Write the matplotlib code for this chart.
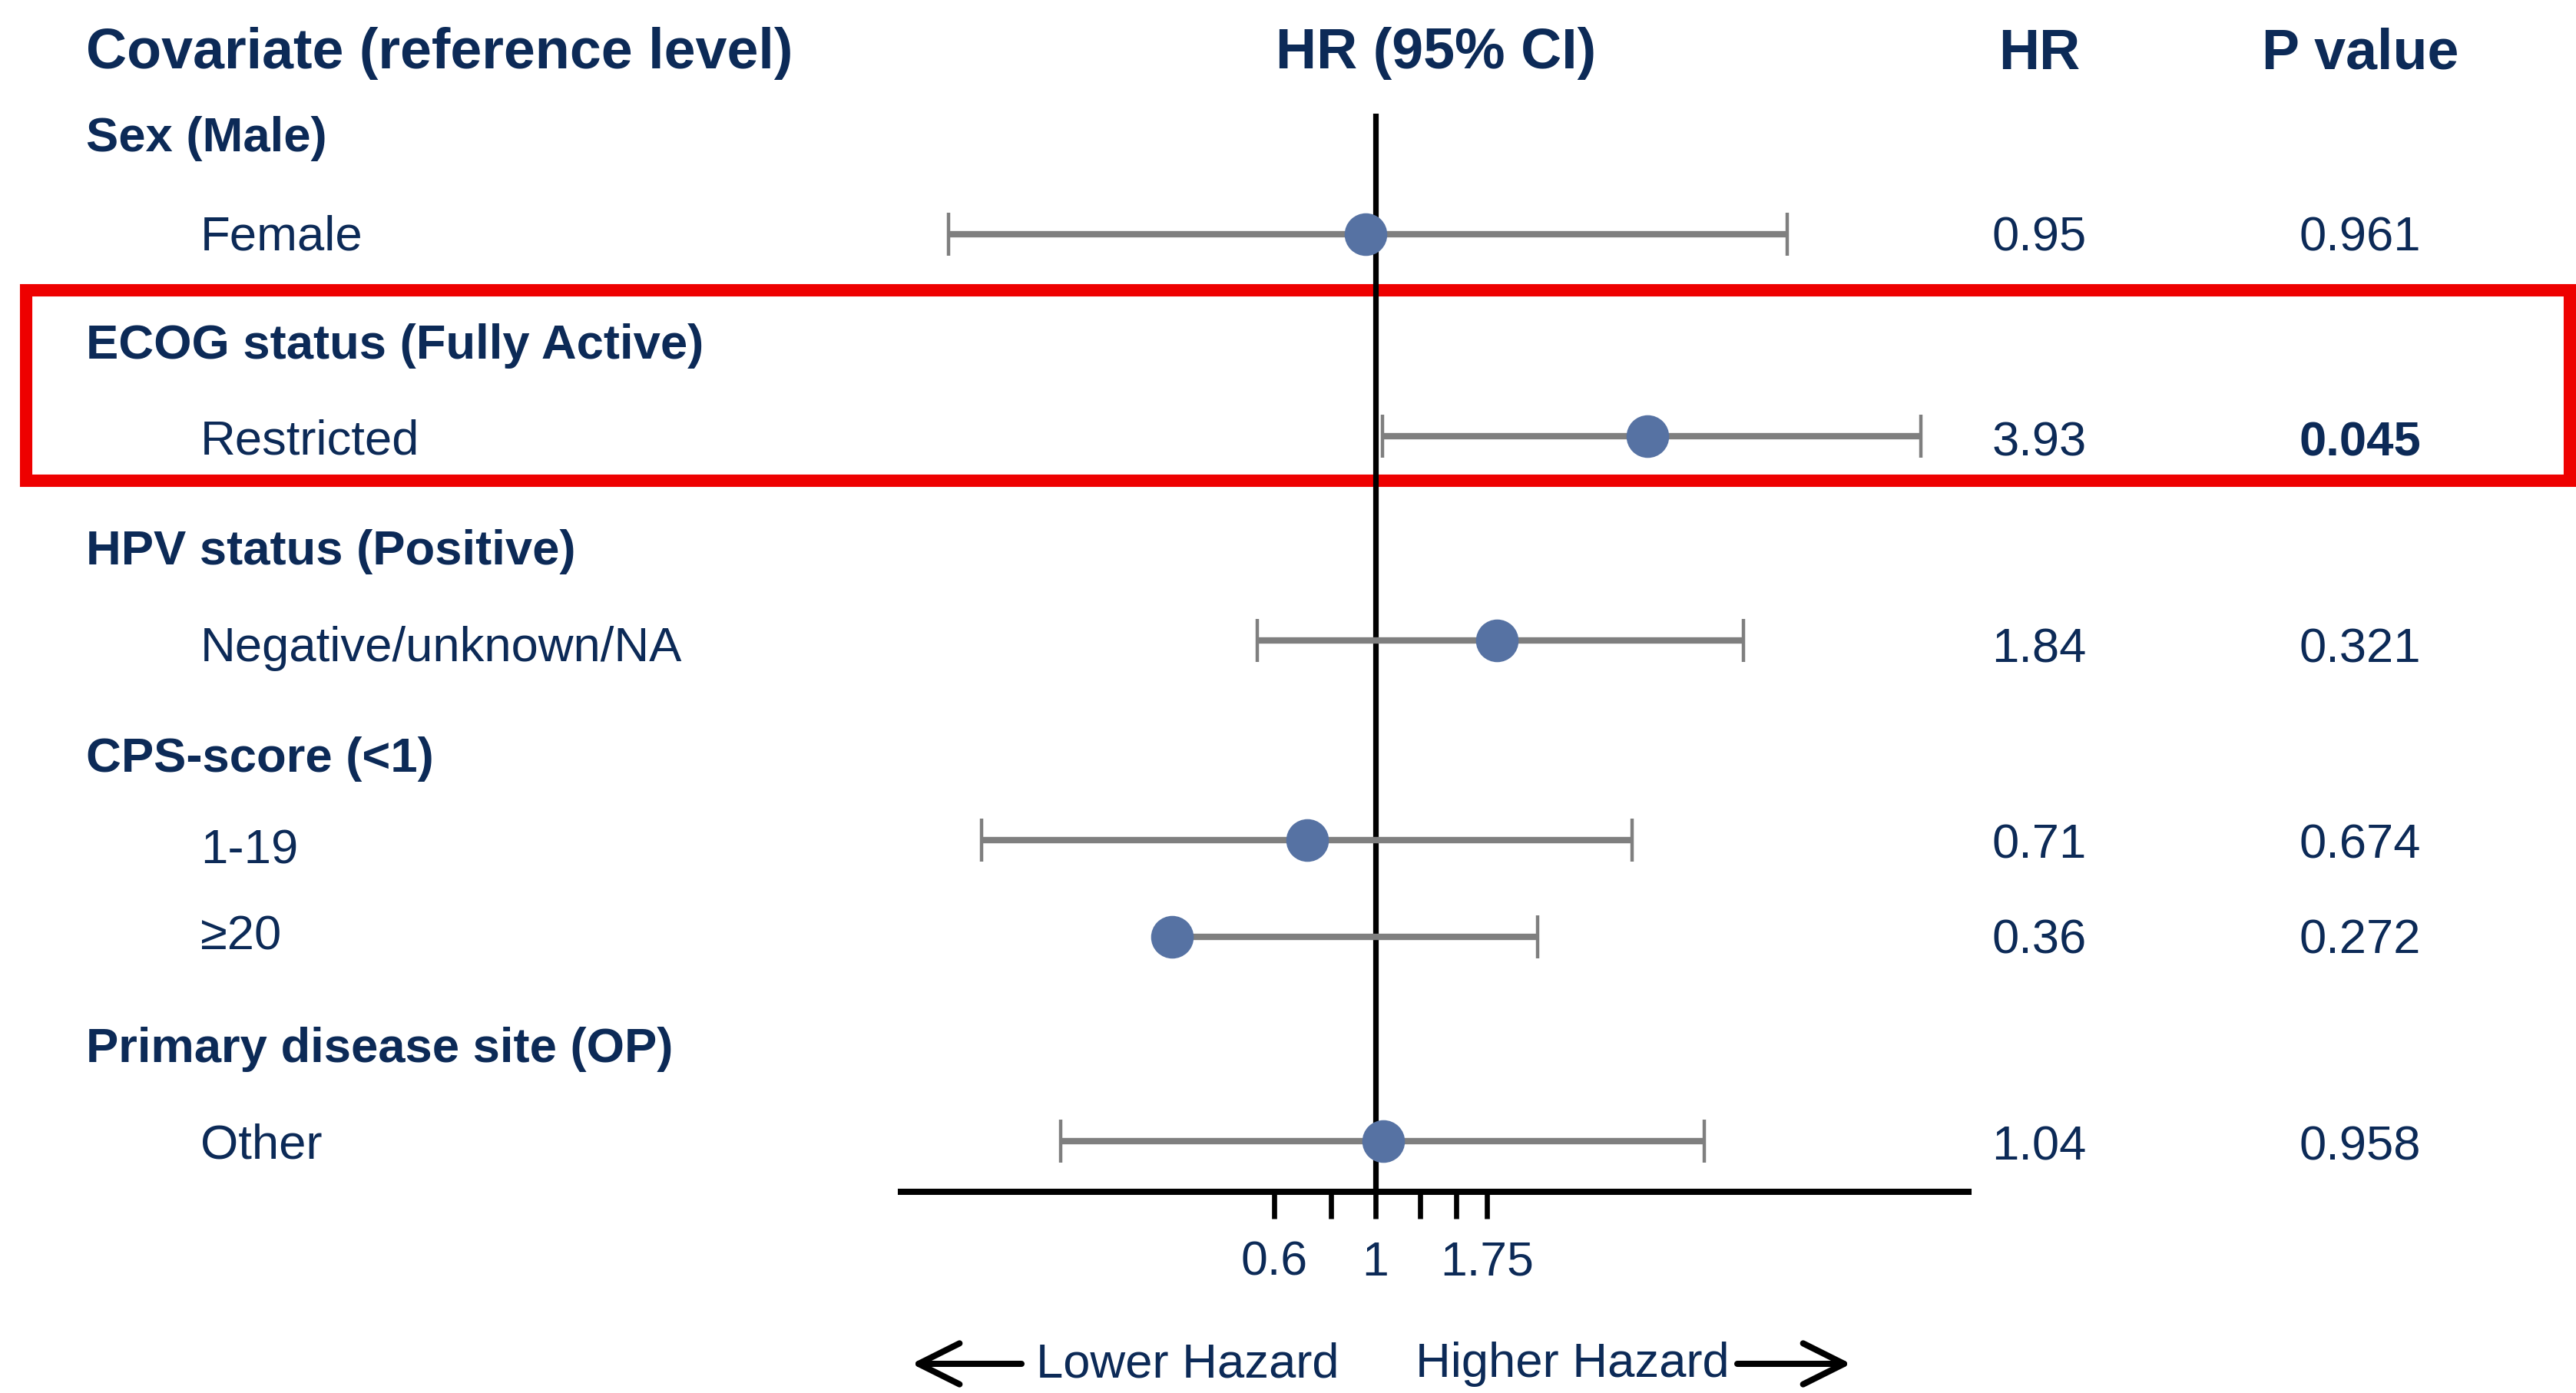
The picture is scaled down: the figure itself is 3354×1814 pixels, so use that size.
import numpy as np
import matplotlib
matplotlib.use("Agg")
import matplotlib.pyplot as plt
from matplotlib.patches import Rectangle
from matplotlib.ticker import NullLocator

plt.rcParams['font.family'] = ['Liberation Sans', 'DejaVu Sans']

# data
groups = ["Sex (Male)", "ECOG status (Fully Active)", "HPV status (Positive)",
          "CPS-score (<1)", "Primary disease site (OP)"]
items = ["Female", "Restricted", "Negative/unknown/NA", "1-19", "\u226520", "Other"]
hr = [0.95, 3.93, 1.84, 0.71, 0.36, 1.04]
ci_low = [0.117, 1.035, 0.552, 0.138, np.nan, 0.205]   # lower CI of >=20 not drawn
ci_high = [7.92, 15.5, 6.36, 3.63, 2.26, 5.22]
hr_text = ["0.95", "3.93", "1.84", "0.71", "0.36", "1.04"]
p_text = ["0.961", "0.045", "0.321", "0.674", "0.272", "0.958"]
p_bold = [False, True, False, False, False, False]
tick_vals = [0.6, 0.8, 1, 1.25, 1.5, 1.75]
tick_labels = ["0.6", "", "1", "", "", "1.75"]

# layout (pixels of the 3355x1814 image, y from top)
W, H = 3355, 1814
header_y = 70
group_y = [181, 451, 719, 988, 1367]
item_y = [305, 568, 834, 1094, 1220, 1486]      # markers
label_y = [309, 575, 845, 1108, 1220, 1492]     # left labels
value_y = [310, 577, 846, 1101, 1225, 1494]     # HR / p columns
x_group, x_item, x_hr, x_p, x_ci = 112, 261, 2655, 3073, 1870
navy = '#0c2a57'
grey = '#7f7f7f'
dot = '#5672a3'
fs = 22.8

fig = plt.figure(figsize=(W / 200, H / 200), dpi=200)
bg = fig.add_axes([0, 0, 1, 1])
bg.set_xlim(0, W)
bg.set_ylim(H, 0)
bg.axis('off')

# headers
hdr = dict(fontsize=26.5, fontweight='bold', color=navy, va='center')
bg.text(x_group, header_y, "Covariate (reference level)", ha='left', **hdr)
bg.text(x_ci, header_y, "HR (95% CI)", ha='center', **hdr)
bg.text(x_hr, header_y, "HR", ha='center', **hdr)
bg.text(x_p, header_y, "P value", ha='center', **hdr)

for g, y in zip(groups, group_y):
    bg.text(x_group, y, g, fontsize=fs, fontweight='bold', color=navy, va='center', ha='left')

for i in range(len(items)):
    bg.text(x_item, label_y[i], items[i], fontsize=fs, color=navy, va='center', ha='left')
    bg.text(x_hr, value_y[i], hr_text[i], fontsize=fs, color=navy, va='center', ha='center')
    bg.text(x_p, value_y[i], p_text[i], fontsize=fs, color=navy, va='center', ha='center',
            fontweight='bold' if p_bold[i] else 'normal')

# highlight box around ECOG
bg.add_patch(Rectangle((34, 378), 3312, 248, fill=False, edgecolor='#ee0000', lw=5.8))

# direction arrows
arrow = dict(arrowstyle='->', lw=2.9, color='black', mutation_scale=48, shrinkA=0, shrinkB=0)
bg.annotate('', xy=(1187, 1776), xytext=(1330, 1776), arrowprops=arrow)
bg.annotate('', xy=(2410, 1776), xytext=(2262, 1776), arrowprops=arrow)
bg.text(1349, 1777, "Lower Hazard", fontsize=fs, color=navy, va='center', ha='left')
bg.text(1843, 1777, "Higher Hazard", fontsize=fs, color=navy, va='center', ha='left')

# forest plot
ax_l, ax_r, ax_top, ax_bot = 1173, 2563, 148, 1552
ax = fig.add_axes([ax_l / W, 1 - ax_bot / H, (ax_r - ax_l) / W, (ax_bot - ax_top) / H])
ax.set_facecolor('none')
ax.set_xscale('log')
ax.set_xlim(0.092, 19.7)
ax.set_ylim(ax_bot, ax_top)
for s in ['top', 'right', 'left']:
    ax.spines[s].set_visible(False)
ax.spines['bottom'].set_linewidth(2.9)
ax.set_yticks([])
ax.set_xticks(tick_vals)
ax.set_xticklabels(tick_labels)
ax.xaxis.set_minor_locator(NullLocator())
ax.tick_params(axis='x', length=12.6, width=2.4, pad=10, labelsize=22.5, labelcolor=navy)

ax.axvline(1, color='black', lw=2.6, zorder=2)

for i, y in enumerate(item_y):
    lo = ci_low[i] if not np.isnan(ci_low[i]) else hr[i]
    ax.plot([lo, ci_high[i]], [y, y], color=grey, lw=3.0, solid_capstyle='butt', zorder=3)
    caps = [ci_high[i]] if np.isnan(ci_low[i]) else [ci_low[i], ci_high[i]]
    ax.plot(caps, [y] * len(caps), ls='none', marker='|', ms=20, mew=1.6, color=grey, zorder=3)
    ax.plot(hr[i], y, marker='o', ms=19, color=dot, mec=dot, zorder=4)

fig.savefig("out.png", dpi=200)
